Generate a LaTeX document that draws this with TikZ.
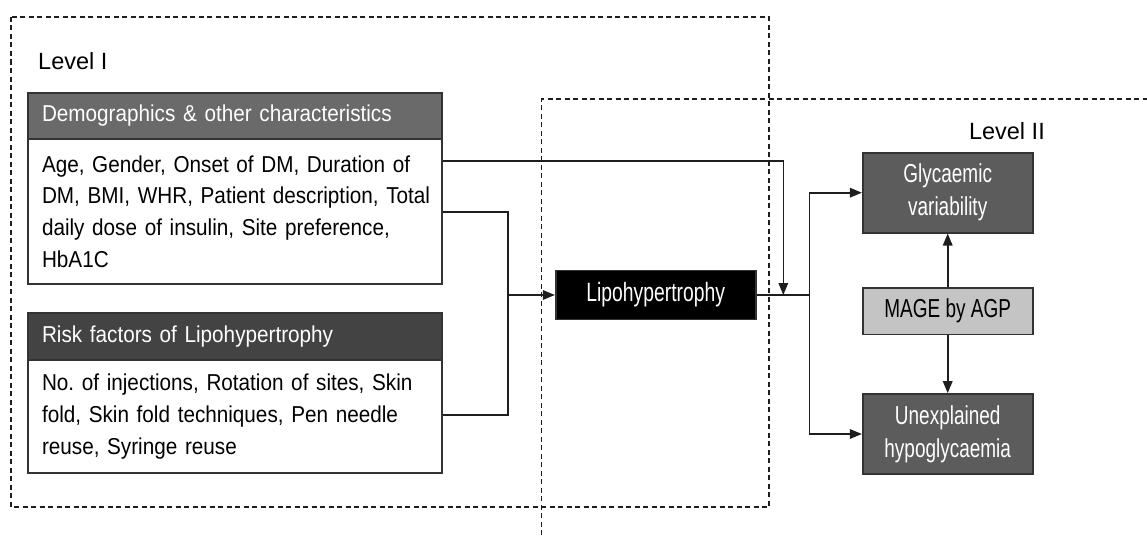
\documentclass[tikz,border=0pt]{standalone}
\usepackage{fontspec}
\setmainfont{Liberation Sans}
\newfontfamily\nfont[FakeStretch=0.9]{Liberation Sans}
\newfontfamily\cfont[FakeStretch=0.73]{Liberation Sans}
\usetikzlibrary{arrows.meta}
\definecolor{hdrA}{HTML}{6A6A6A}
\definecolor{hdrB}{HTML}{434343}
\definecolor{outbox}{HTML}{5C5C5C}
\definecolor{magec}{HTML}{C4C4C4}
\definecolor{bord}{HTML}{333333}
\definecolor{lnc}{HTML}{1E1E1E}
\newcommand{\myline}[1]{\mbox{#1}}
\tikzset{
  frame/.style={draw=lnc, line width=1.5pt, dash pattern=on 5pt off 3.5pt},
  hdr/.style={draw=bord, line width=1.6pt, minimum width=414pt, inner xsep=14pt, text width=386pt, align=left, text=white, font=\nfont\fontsize{23}{28}\selectfont},
  bodybox/.style={draw=bord, line width=1.6pt, fill=white, minimum width=414pt, inner xsep=14pt, text width=386pt, align=left, font=\nfont\frenchspacing\fontsize{23}{31.8}\selectfont},
  obox/.style={draw=bord, line width=1.6pt, minimum width=170pt, align=center, font=\cfont\fontsize{26}{33}\selectfont},
  conn/.style={draw=lnc, line width=1.6pt},
  arr/.style={conn, -{Triangle[length=12pt,width=9.5pt]}},
  lvl/.style={font=\fontsize{23.5}{28}\selectfont, inner sep=0pt}
}
\begin{document}
\begin{tikzpicture}[x=1pt,y=-1pt]
\useasboundingbox (0,0) rectangle (1147,535);
% frames
\draw[frame] (11,17) rectangle (769,507);
\draw[frame] (541.5,535) -- (541.5,99) -- (1147,99);
\node[lvl, anchor=base west] (lv1) at (38,69) {Level I};
\node[lvl, anchor=base east] (lv2) at (1045,139.5) {Level II};
% left boxes
\node[hdr, fill=hdrA, minimum height=46pt] (demoH) at (235,116) {Demographics \& other characteristics};
\node[bodybox, minimum height=145pt] (demoB) at (235,211.5) {\myline{Age, Gender, Onset of DM, Duration of}\\\myline{DM, BMI, WHR, Patient description, Total}\\\myline{daily dose of insulin, Site preference,}\\\myline{HbA1C}};
\node[hdr, fill=hdrB, minimum height=47pt] (riskH) at (235,336.5) {Risk factors of Lipohypertrophy};
\node[bodybox, minimum height=113pt] (riskB) at (235,416.5) {\myline{No. of injections, Rotation of sites, Skin}\\\myline{fold, Skin fold techniques, Pen needle}\\\myline{reuse, Syringe reuse}};
% centre
\node[draw=bord, line width=1.6pt, fill=black, text=white, minimum width=200pt, minimum height=49pt, font=\cfont\fontsize{26.5}{30}\selectfont] (lipo) at (655.7,295) {Lipohypertrophy};
% right boxes
\node[obox, fill=outbox, text=white, minimum height=80pt] (glyc) at (947.7,192.7) {Glycaemic\\variability};
\node[obox, fill=magec, minimum height=46.6pt] (mage) at (947.7,311) {MAGE by AGP};
\node[obox, fill=outbox, text=white, minimum height=80pt] (hypo) at (947.7,434) {Unexplained\\hypoglycaemia};
% helper coordinates
\coordinate (yA) at (0,161);
\coordinate (yB) at (0,211.7);
\coordinate (yC) at (0,415);
\coordinate (bx) at (507.7,295);
\coordinate (dn) at (783.3,295);
\coordinate (split) at (809.3,295);
% connectors
\draw[conn] (demoB.east |- yB) -| (bx) |- (riskB.east |- yC);
\draw[arr] (bx) -- (lipo.west);
\draw[conn] (lipo.east) -- (split);
\draw[arr] (demoB.east |- yA) -| (dn);
\draw[arr] (split) |- (glyc.west);
\draw[arr] (split) |- (hypo.west);
\draw[arr] (mage.north) -- (glyc.south);
\draw[arr] (mage.south) -- (hypo.north);
\end{tikzpicture}
\end{document}
